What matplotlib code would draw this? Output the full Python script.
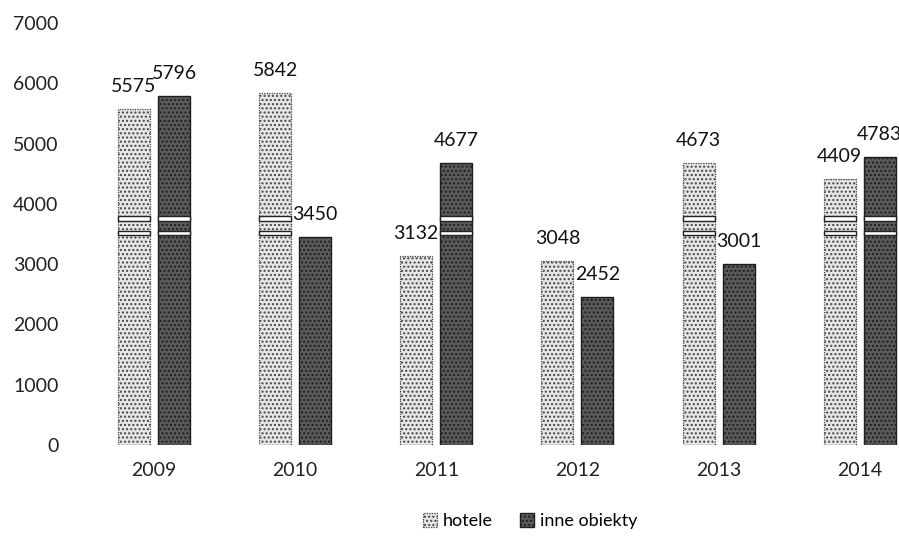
import matplotlib
matplotlib.use("Agg")
import matplotlib.pyplot as plt
import numpy as np
from matplotlib.patches import Rectangle

years = ["2009", "2010", "2011", "2012", "2013", "2014"]
hotele = [5575, 5842, 3132, 3048, 4673, 4409]
inne = [5796, 3450, 4677, 2452, 3001, 4783]
series_names = ["hotele", "inne obiekty"]
yticks = [0, 1000, 2000, 3000, 4000, 5000, 6000, 7000]

plt.rcParams['font.family'] = ['Lato', 'DejaVu Sans']

fig = plt.figure(figsize=(8.99, 5.36), dpi=100)
ax = fig.add_axes([0.0928, 0.170, 0.942, 0.787])

x = np.arange(len(years))
w = 0.227
off = 0.142
light = dict(facecolor="#e6e6e6", edgecolor="#444444", hatch="....", linewidth=0.9, linestyle=(0, (1, 1)))
dark = dict(facecolor="#5a5a5a", edgecolor="#1e1e1e", hatch="....", linewidth=1.0)

b1 = ax.bar(x - off, hotele, w, label=series_names[0], **light)
b2 = ax.bar(x + off, inne, w, label=series_names[1], **dark)

# break marks on tall bars
for bars, vals in ((b1, hotele), (b2, inne)):
    for r, v in zip(bars, vals):
        if v > 3800:
            for lev in (3720, 3480):
                ax.add_patch(Rectangle((r.get_x(), lev), r.get_width(), 75,
                                       facecolor="white", edgecolor="#222222",
                                       linewidth=1.0, zorder=3))

for bars, vals in ((b1, hotele), (b2, inne)):
    for r, v in zip(bars, vals):
        ax.annotate(str(v), (r.get_x() + r.get_width() / 2, v),
                    xytext=(0, 10), textcoords="offset points",
                    ha="center", va="bottom", fontsize=14, color="#111111")

ax.set_xlim(-0.5, len(years) - 0.5)
ax.set_ylim(0, 7000)
ax.set_yticks(yticks)
ax.set_yticklabels([str(t) for t in yticks])
ax.set_xticks(x)
ax.set_xticklabels(years)
ax.tick_params(axis="y", length=0, pad=18, labelsize=14, labelcolor="#222222")
ax.tick_params(axis="x", length=0, pad=12, labelsize=14, labelcolor="#222222")
for s in ax.spines.values():
    s.set_visible(False)

fig.legend(handles=[b1, b2], labels=series_names, loc="center",
           bbox_to_anchor=(530 / 899, 1 - 521 / 536), ncol=2, frameon=False,
           fontsize=13, handlelength=0.8, handleheight=0.8, handletextpad=0.3,
           columnspacing=1.5)

fig.savefig("out.png", dpi=100)
